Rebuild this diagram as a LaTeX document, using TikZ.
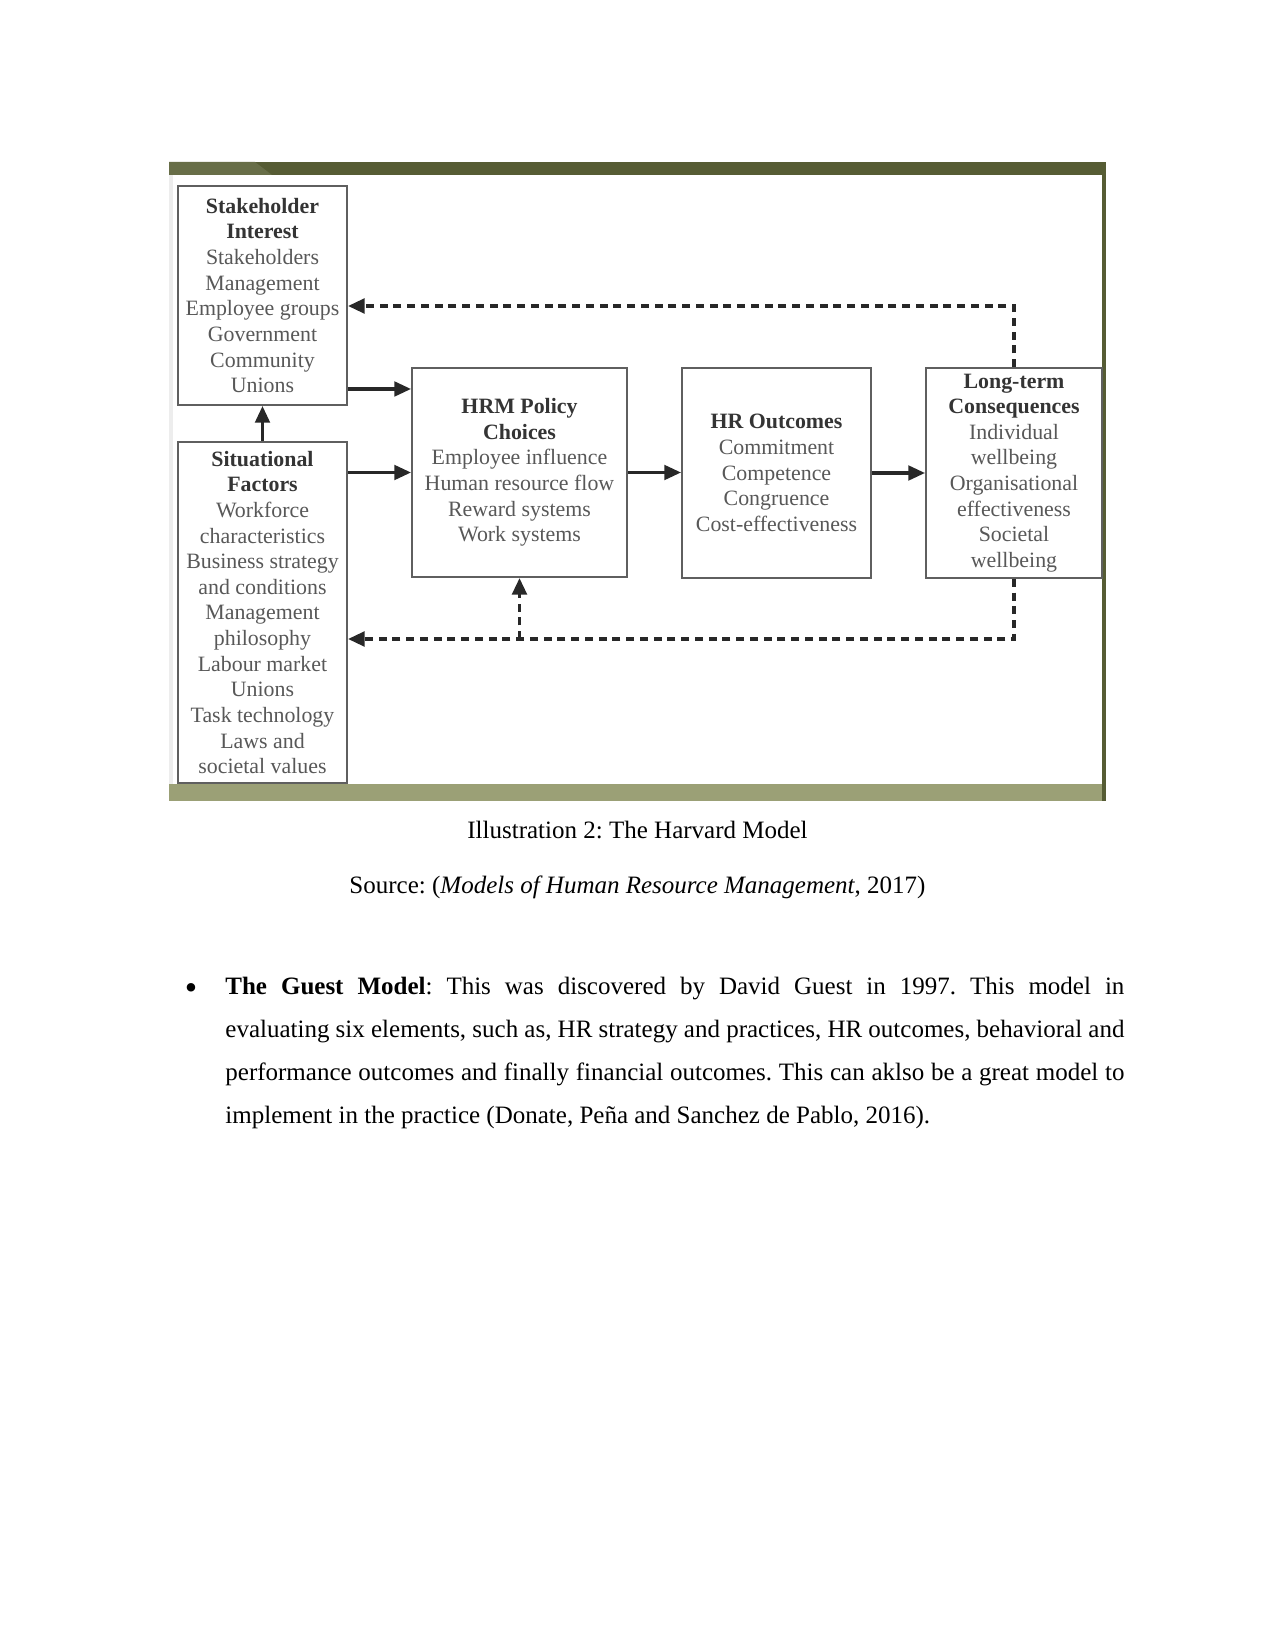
\documentclass[tikz,border=0pt]{standalone}
\usepackage{fontspec}
\setmainfont{Liberation Serif}
\usetikzlibrary{arrows.meta}
\definecolor{olivedark}{RGB}{86,92,52}
\definecolor{olivemid}{RGB}{104,110,72}
\definecolor{olivelight}{RGB}{155,160,118}
\definecolor{boxline}{RGB}{95,95,95}
\definecolor{boxtext}{RGB}{88,88,88}
\definecolor{boxtitle}{RGB}{52,52,52}
\definecolor{arrowc}{RGB}{40,40,40}
\frenchspacing
\begin{document}
\begin{tikzpicture}[x=0.48pt,y=-0.48pt,
  hbox/.style={draw=boxline, line width=0.95pt, inner sep=0pt, align=center,
    font=\fontsize{10.5}{12.3}\selectfont, text=boxtext},
  solidarr/.style={draw=arrowc, line width=1.5pt, -{Triangle[length=8pt,width=7pt]}},
  dasharr/.style={draw=arrowc, line width=1.7pt, dash pattern=on 3.8pt off 2.8pt,
    -{Triangle[length=8pt,width=7pt]}},
  bodytext/.style={inner sep=0pt, font=\fontsize{12}{14}\selectfont}
]
\useasboundingbox[fill=white] (0,0) rectangle (1275,1650);
% frame of the figure
\fill[white] (169,162) rectangle (1106,801);
\fill[olivedark] (169,162) rectangle (1106,175);
\fill[olivemid] (169,162) -- (255,162) -- (272,175) -- (169,175) -- cycle;
\fill[olivelight] (169,784) rectangle (1106,801);
\fill[olivedark] (1102,162) rectangle (1106,801);
\fill[black!7] (169,175) rectangle (173,784);
% boxes
\node[hbox, minimum width=81.12pt, minimum height=105.12pt] (SI) at (262.5,295.5)
  {\textcolor{boxtitle}{\bfseries Stakeholder}\\\textcolor{boxtitle}{\bfseries Interest}\\Stakeholders\\Management\\Employee groups\\Government\\Community\\Unions};
\node[hbox, minimum width=81.12pt, minimum height=163.68pt] (SF) at (262.5,612.5)
  {\textcolor{boxtitle}{\bfseries Situational}\\\textcolor{boxtitle}{\bfseries Factors}\\Workforce\\characteristics\\Business strategy\\and conditions\\Management\\philosophy\\Labour market\\Unions\\Task technology\\Laws and\\societal values};
\node[hbox, minimum width=103.2pt, minimum height=100.32pt] (HRM) at (519.5,472.5)
  {\textcolor{boxtitle}{\bfseries HRM Policy}\\\textcolor{boxtitle}{\bfseries Choices}\\Employee influence\\Human resource flow\\Reward systems\\Work systems};
\node[hbox, minimum width=90.72pt, minimum height=100.8pt] (HRO) at (776.5,473)
  {\textcolor{boxtitle}{\bfseries HR Outcomes}\\Commitment\\Competence\\Congruence\\Cost-effectiveness};
\node[hbox, minimum width=84.48pt, minimum height=100.8pt] (LT) at (1014,473)
  {\textcolor{boxtitle}{\bfseries Long-term}\\\textcolor{boxtitle}{\bfseries Consequences}\\Individual\\wellbeing\\Organisational\\effectiveness\\Societal\\wellbeing};
% solid arrows
\coordinate (s1) at ([yshift=8.16pt]SI.south east);
\draw[solidarr] (s1) -- (s1 -| HRM.west);
\draw[solidarr] (SF.east |- HRM.west) -- (HRM.west);
\draw[solidarr] (SF.north) -- (SI.south);
\draw[solidarr] (HRM.east) -- (HRO.west |- HRM.east);
\draw[solidarr] (HRO.east) -- (LT.west);
% dashed feedback arrows
\coordinate (topc) at (1014,306);
\coordinate (botc) at (1014,639);
\draw[dasharr] (LT.north) -- (topc) -- (topc -| SI.east);
\draw[dasharr] (LT.south) -- (botc) -- (botc -| SF.east);
\draw[dasharr] (botc -| HRM.south) -- (HRM.south);
% caption and text
\node[bodytext, anchor=base] (cap) at (637.5,838) {Illustration 2: The Harvard Model};
\node[bodytext, anchor=base] (src) at (637.5,893) {Source: (\textit{Models of Human Resource Management}, 2017)};
\node[bodytext, anchor=base, font=\fontsize{17}{17}\selectfont] (bul) at (191,999) {\textbullet};
\node[bodytext, anchor=north west, text width=431.52pt, align=justify,
  font=\fontsize{12}{20.6}\selectfont] (para) at (225,977)
  {\textbf{The Guest Model}: This was discovered by David Guest in 1997. This model in\linebreak
   evaluating six elements, such as, HR strategy and practices, HR outcomes, behavioral and\linebreak
   performance outcomes and finally financial outcomes. This can aklso be a great model to\linebreak
   implement in the practice (Donate, Peña and Sanchez de Pablo, 2016).};
\end{tikzpicture}
\end{document}
